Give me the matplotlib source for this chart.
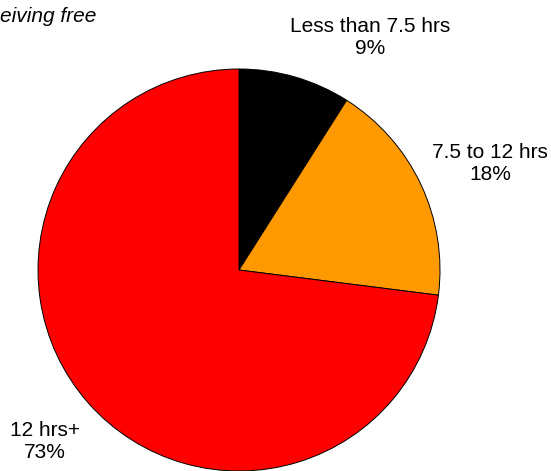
import matplotlib
matplotlib.use("Agg")
import matplotlib.pyplot as plt

plt.rcParams['font.family'] = ['Liberation Sans', 'DejaVu Sans']

# data
categories = ['Less than 7.5 hrs', '7.5 to 12 hrs', '12 hrs+']
shares = [9, 18, 73]
colors = ['#000000', '#ff9900', '#ff0000']
title = 'eiving free'  # only the visible end of the title

fig = plt.figure(figsize=(5.51, 4.71), dpi=100)
ax = fig.add_axes([0, 0, 1, 1])

ax.pie(shares, colors=colors, startangle=90, counterclock=False,
       center=(239, 201), radius=201, frame=True,
       wedgeprops={'edgecolor': 'black', 'linewidth': 0.7})
ax.set_xlim(0, 551)
ax.set_ylim(0, 471)
ax.set_aspect('equal')
ax.axis('off')

label_pos = [(370, 433), (490, 307), (45, 30)]
for name, val, (x, y) in zip(categories, shares, label_pos):
    ax.text(x, y, f'{name}\n{val}%', ha='center', va='center',
            fontsize=15, linespacing=1.2)

ax.text(0, 455, title, ha='left', va='center', fontsize=15,
        style='italic')

fig.savefig('out.png', dpi=100)
